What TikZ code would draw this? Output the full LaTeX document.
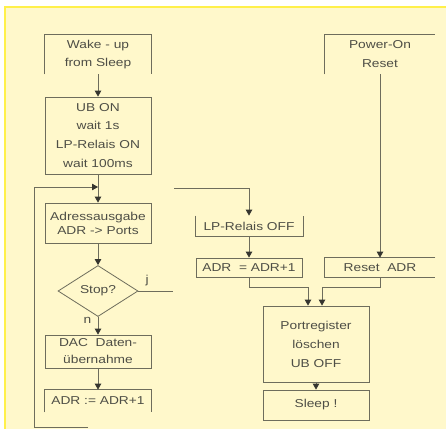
\documentclass[tikz,border=0pt]{standalone}
\usepackage{fontspec}
\setmainfont{Liberation Sans}[FakeStretch=1.2]
\usetikzlibrary{shapes.geometric, arrows.meta, calc}
\definecolor{Paper}{HTML}{FFF8CB}
\definecolor{Rim}{HTML}{FFF04A}
\definecolor{Ink}{HTML}{6E6D5C}
\definecolor{Tip}{HTML}{35352F}
\definecolor{Txt}{HTML}{4E4E46}

\begin{document}
\begin{tikzpicture}[x=1bp, y=-1bp,
    flowbox/.style={draw=Ink, line width=0.8bp, minimum width=106bp, align=center,
        text=Txt, inner sep=0pt, font=\fontsize{11.5}{19}\selectfont},
    openbox/.style={flowbox, draw=none},
    decision/.style={diamond, draw=Ink, line width=0.8bp, minimum width=80bp,
        minimum height=51bp, inner sep=0pt, text=Txt, font=\fontsize{11.5}{13}\selectfont},
    rim/.style={draw=Ink, line width=0.8bp},
    flow/.style={draw=Ink, line width=0.8bp, -{Triangle[width=6.5bp, length=6bp, color=Tip]}},
    branchlabel/.style={text=Txt, font=\fontsize{11.5}{13}\selectfont}]

    \useasboundingbox (0,0) rectangle (446,429);
    \fill[white] (0,0) rectangle (446,429);
    \fill[Paper] (5,7) rectangle (446,429);
    \draw[Rim, line width=2bp] (5,429) -- (5,7) -- (446,7);

    % left column
    \node[openbox, minimum height=39bp] (wake) at (98,54.5) {Wake - up\\from Sleep};
    \draw[rim] (wake.south west) -- (wake.north west) -- (wake.north east) -- (wake.south east);
    \node[flowbox, minimum height=77bp] (ubon) at (98,135.5) {UB ON\\wait 1s\\LP-Relais ON\\wait 100ms};
    \node[flowbox, minimum height=40bp, font=\fontsize{11.5}{14}\selectfont] (adra) at (98,223) {Adressausgabe\\ADR -> Ports};
    \node[decision] (stop) at (98,291) {Stop?};
    \node[flowbox, minimum height=33bp, font=\fontsize{11.5}{17}\selectfont] (dac) at (98,351.5) {DAC\ \ Daten-\\übernahme};
    \node[openbox, minimum height=22bp] (adrl) at (98,401) {ADR := ADR+1};
    \draw[rim] (adrl.south west) -- (adrl.north west) -- (adrl.north east) -- (adrl.south east);

    % middle column
    \node[openbox, minimum height=20bp, minimum width=107bp] (lpoff) at (249,226) {LP-Relais OFF};
    \draw[rim] (lpoff.north west) -- (lpoff.south west) -- (lpoff.south east) -- (lpoff.north east);
    \node[flowbox, minimum height=19bp] (adrr) at (249,267.5) {ADR\ \ = ADR+1};
    \node[flowbox, minimum height=76bp] (port) at (316,344) {Portregister\\löschen\\UB OFF};
    \node[flowbox, minimum height=30bp] (sleep) at (316,405) {Sleep !};

    % right column
    \node[openbox, minimum height=39bp, minimum width=110bp] (power) at (380,54.5) {Power-On\\Reset};
    \draw[rim] (power.south west) -- (power.north west) -- (power.north east);
    \node[openbox, minimum height=19bp, minimum width=110bp] (reset) at (380,267.5) {Reset\ \ ADR};
    \draw[rim] (reset.north east) -- (reset.north west) -- (reset.south west) -- (reset.south east);

    % connectors
    \coordinate (merge) at (98,187);
    \coordinate (loopend) at (88,427);
    \coordinate (jend) at (173,291);
    \coordinate (jstart) at (174,188);
    \coordinate (joinl) at (308,287);
    \coordinate (joinr) at (322,287);

    \draw[flow] (wake) -- (ubon);
    \draw[flow] (ubon) -- (adra);
    \draw[flow] (loopend) -| (34,187) -- (merge);
    \draw[flow] (adra) -- (stop);
    \draw[flow] (stop) -- (dac) node[branchlabel, pos=0.2, left=3bp] {n};
    \draw[flow] (dac) -- (adrl);
    \draw[rim] (stop.east) -- (jend) node[branchlabel, pos=0.25, above=1bp] {j};
    \draw[flow] (jstart) -| (lpoff.north);
    \draw[flow] (lpoff) -- (adrr);
    \draw[flow] (power.south) -- (reset.north);
    \draw[flow] (adrr.south) |- (joinl) -- (joinl |- port.north);
    \draw[flow] (reset.south) |- (joinr) -- (joinr |- port.north);
    \draw[flow] (port) -- (sleep);
\end{tikzpicture}
\end{document}
